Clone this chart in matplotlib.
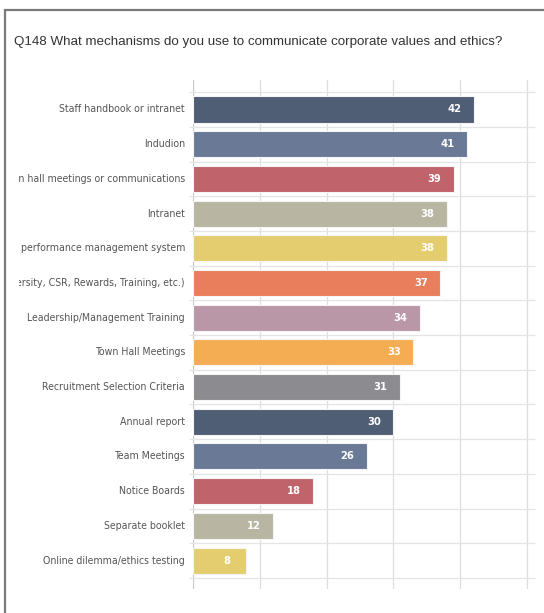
import matplotlib.pyplot as plt
import matplotlib.transforms as mtransforms
from matplotlib.patches import Rectangle

categories = [
    'Staff handbook or intranet',
    'Indudion',
    'Town hall meetings or communications',
    'Intranet',
    'Part of performance management system',
    'Specific programmes (Diversity, CSR, Rewards, Training, etc.)',
    'Leadership/Management Training',
    'Town Hall Meetings',
    'Recruitment Selection Criteria',
    'Annual report',
    'Team Meetings',
    'Notice Boards',
    'Separate booklet',
    'Online dilemma/ethics testing',
]
values = [42, 41, 39, 38, 38, 37, 34, 33, 31, 30, 26, 18, 12, 8]
colors = ['#4f5d75', '#6a7a96', '#c0636b', '#b8b6a2', '#e3cd6e', '#e87e5c', '#b997a6',
          '#f4ad52', '#8c8c90', '#4f5d75', '#6a7a96', '#c0636b', '#b8b6a2', '#e3cd6e']
x_ticks = [0, 10, 20, 30, 40, 50]

fig = plt.figure(figsize=(5.44, 6.13), dpi=100)
W, H = 544, 613
ax = fig.add_axes([193 / W, 1 - 589 / H, (535 - 193) / W, (589 - 80) / H])

ypos = list(range(len(categories)))
ax.barh(ypos, values, height=0.75, color=colors, edgecolor='#f4f4f4', linewidth=0.8, zorder=3)

# value labels inside the bar ends
for y, v in zip(ypos, values):
    ax.text(v - 2.9, y, str(v), ha='center', va='center', color='white',
            fontsize=8, fontweight='bold', family='DejaVu Sans', fontstretch='condensed', zorder=4)

ax.set_xlim(0, 51.2)
ax.set_ylim(13.82, -0.85)

# gridlines
for x in x_ticks:
    ax.axvline(x, color='#dedede' if x else '#c8c8c8', linewidth=0.9, zorder=1)
for b in range(len(categories) + 1):
    ax.hlines(b - 0.5, -0.6, 51.2, color='#e4e4e4', linewidth=0.9, zorder=1, clip_on=False)

ax.set_xticks([])
ax.set_yticks([])
for s in ax.spines.values():
    s.set_visible(False)

# category labels, clipped at the left like the source
blend = mtransforms.blended_transform_factory(fig.transFigure, ax.transData)
clip = mtransforms.TransformedBbox(mtransforms.Bbox.from_extents(19 / W, 0, 1, 1), fig.transFigure)
for y, c in zip(ypos, categories):
    t = fig.text(185 / W, y, c, transform=blend, ha='right', va='center',
                 fontsize=7.6, color='#555555', family='DejaVu Sans', fontstretch='condensed')
    t.set_clip_box(clip)
    t.set_clip_on(True)

fig.text(14 / W, 1 - 42 / H, 'Q148 What mechanisms do you use to communicate corporate values and ethics?',
         ha='left', va='center', fontsize=9.6, color='#333333', family='Liberation Sans')

# outer frame
frame = Rectangle((5 / W, -0.05), 1.1, 1 - 10 / H + 0.05, transform=fig.transFigure,
                  fill=False, edgecolor='#7a7a7a', linewidth=1.6)
fig.add_artist(frame)

fig.savefig('out.png', dpi=100)
